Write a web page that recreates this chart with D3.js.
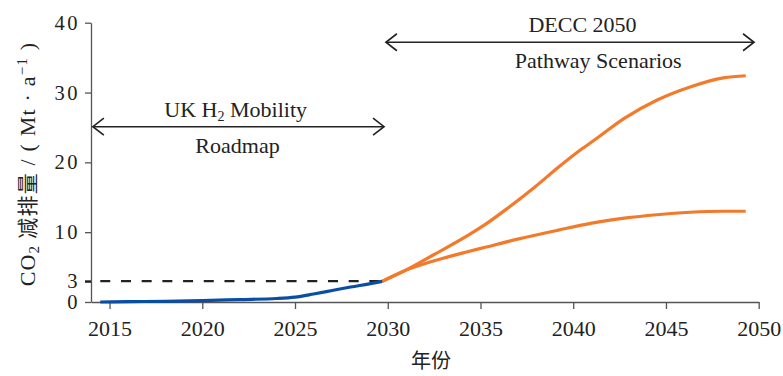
<!DOCTYPE html>
<html>
<head>
<meta charset="utf-8">
<script src="https://cdn.jsdelivr.net/npm/d3@7"></script>
<style>
  body { margin: 0; background: #fff; }
  svg { display: block; }
  svg text { font-family: "Liberation Serif", "Times New Roman", Times, serif; }
  svg text .cjk, svg text.cjk { font-family: "Noto Sans CJK SC", sans-serif; }
</style>
</head>
<body>
<svg id="chart" width="783" height="376"></svg>
<script>
// data
const xTicks = [2015, 2020, 2025, 2030, 2035, 2040, 2045, 2050];
const yTicks = [0, 3, 10, 20, 30, 40];

const roadmapYears = [2014.5, 2016, 2018, 2020, 2022, 2024, 2025, 2026, 2027, 2028, 2029, 2029.7];
const roadmapValues = [0, 0.05, 0.1, 0.2, 0.35, 0.5, 0.7, 1.15, 1.65, 2.15, 2.6, 2.95];

const highYears = [2029.7, 2031, 2032.5, 2034.3, 2035.2, 2036.5, 2037.9, 2039.2, 2040.4, 2041.2, 2042.75, 2044.5, 2046.3, 2048.1, 2049.3];
const highValues = [2.95, 4.6, 6.8, 9.5, 11.0, 13.5, 16.4, 19.3, 21.8, 23.3, 26.3, 28.9, 30.8, 32.1, 32.4];

const lowYears = [2029.7, 2030.75, 2032.5, 2034.3, 2035.2, 2037, 2039.2, 2041, 2042.75, 2044.5, 2046.3, 2048.1, 2049.3];
const lowValues = [2.95, 4.3, 5.9, 7.2, 7.8, 9.0, 10.3, 11.3, 12.0, 12.5, 12.85, 13.0, 13.0];

const targetLevel = 3;
const targetSpan = [2014.5, 2029.7];

const svg = d3.select("#chart");

const x = d3.scaleLinear().domain([2014, 2050]).range([91, 758.7]);
const y = d3.scaleLinear().domain([0, 40]).range([302, 22.7]);

const axisColor = "#555";
const textColor = "#222";

// x axis
const gx = svg.append("g")
  .attr("transform", `translate(0,${y(0)})`)
  .call(d3.axisBottom(x).tickValues(xTicks).tickFormat(d3.format("d")).tickSize(7).tickSizeOuter(0))
  .attr("font-family", null);
gx.select(".domain").attr("stroke", axisColor).attr("stroke-width", 1.3);
gx.selectAll(".tick line").attr("stroke", axisColor).attr("stroke-width", 1.3);
gx.selectAll(".tick text")
  .attr("font-size", 22).attr("fill", textColor).attr("dy", "1.1em");

// y axis
const gy = svg.append("g")
  .attr("transform", `translate(${x(2014)},0)`)
  .call(d3.axisLeft(y).tickValues(yTicks).tickSize(6).tickSizeOuter(0))
  .attr("font-family", null);
gy.select(".domain").attr("stroke", axisColor).attr("stroke-width", 1.3);
gy.selectAll(".tick line").attr("stroke", axisColor).attr("stroke-width", 1.3);
gy.selectAll(".tick line").filter(d => d === targetLevel).attr("stroke", textColor).attr("stroke-width", 2.5);
gy.selectAll(".tick text")
  .attr("font-size", 20.5).attr("fill", textColor)
  .attr("x", -11).attr("letter-spacing", 2.5);

// dashed target line
svg.append("line")
  .attr("x1", x(targetSpan[0])).attr("x2", x(targetSpan[1]))
  .attr("y1", y(targetLevel)).attr("y2", y(targetLevel))
  .attr("stroke", textColor).attr("stroke-width", 2.2)
  .attr("stroke-dasharray", "10,10.7");

const line = d3.line().x(d => x(d[0])).y(d => y(d[1])).curve(d3.curveMonotoneX);

svg.append("path")
  .datum(d3.zip(lowYears, lowValues))
  .attr("d", line).attr("fill", "none").attr("stroke", "#f47a2b").attr("stroke-width", 3.2);
svg.append("path")
  .datum(d3.zip(highYears, highValues))
  .attr("d", line).attr("fill", "none").attr("stroke", "#f47a2b").attr("stroke-width", 3.2);
svg.append("path")
  .datum(d3.zip(roadmapYears, roadmapValues))
  .attr("d", line).attr("fill", "none").attr("stroke", "#0a4ea3").attr("stroke-width", 3.2);

// span annotations
const spans = [
  { from: 2014.1, to: 2029.8, level: 25.1, top: "UK H", sub: "2", topRest: " Mobility", bottom: "Roadmap", topX: 2021.8, bottomX: 2021.9 },
  { from: 2029.9, to: 2049.75, level: 37.2, top: "DECC 2050", sub: null, topRest: "", bottom: "Pathway Scenarios", topX: 2040.5, bottomX: 2041.35 }
];

spans.forEach(s => {
  const yy = y(s.level);
  const x1 = x(s.from), x2 = x(s.to);
  const g = svg.append("g").attr("stroke", textColor).attr("stroke-width", 1.6).attr("fill", "none");
  g.append("line").attr("x1", x1).attr("x2", x2).attr("y1", yy).attr("y2", yy);
  g.append("path").attr("d", `M${x1 + 11},${yy - 8.5}L${x1},${yy}L${x1 + 11},${yy + 8.5}`);
  g.append("path").attr("d", `M${x2 - 11},${yy - 8.5}L${x2},${yy}L${x2 - 11},${yy + 8.5}`);

  const t = svg.append("text")
    .attr("x", x(s.topX)).attr("y", yy - 10)
    .attr("text-anchor", "middle").attr("font-size", 22).attr("fill", textColor);
  t.append("tspan").text(s.top);
  if (s.sub) {
    t.append("tspan").attr("font-size", 14).attr("dy", 4).text(s.sub);
    t.append("tspan").attr("dy", -4).text(s.topRest);
  }
  svg.append("text")
    .attr("x", x(s.bottomX)).attr("y", yy + 26)
    .attr("text-anchor", "middle").attr("font-size", 22).attr("fill", textColor)
    .text(s.bottom);
});

// axis titles
svg.append("text")
  .attr("class", "cjk")
  .attr("x", 431).attr("y", 368)
  .attr("text-anchor", "middle").attr("font-size", 20).attr("fill", textColor)
  .text("年份");

const yt = svg.append("text")
  .attr("transform", "translate(35,164) rotate(-90)")
  .attr("text-anchor", "middle").attr("font-size", 22).attr("fill", textColor)
  .attr("letter-spacing", 1.2);
yt.append("tspan").text("CO");
yt.append("tspan").attr("font-size", 15).attr("dy", 4).text("2");
yt.append("tspan").attr("dy", -4).attr("class", "cjk").attr("font-size", 21).text(" 减排量");
yt.append("tspan").text(" / ( Mt · a");
yt.append("tspan").attr("font-size", 15).attr("dy", -8).text("−1");
yt.append("tspan").attr("dy", 8).text(" )");
</script>
</body>
</html>
